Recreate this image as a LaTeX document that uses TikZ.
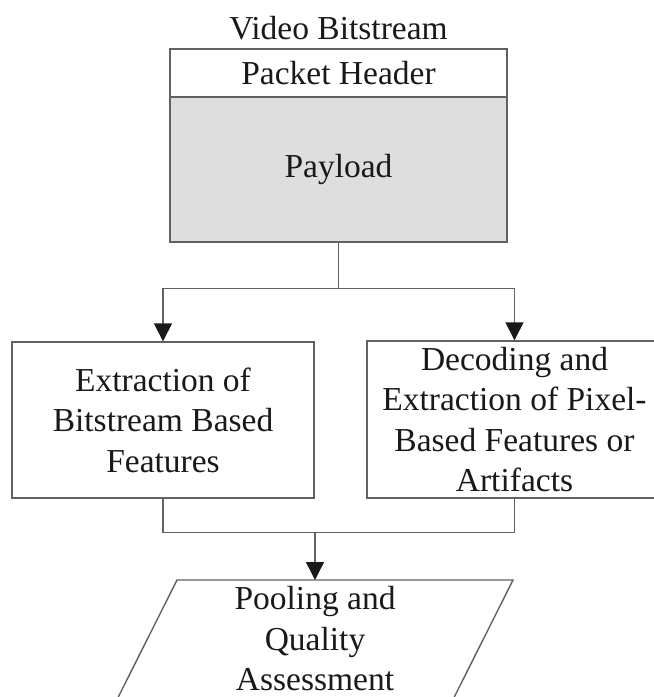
\documentclass[tikz,border=0pt]{standalone}
\usepackage{fontspec}
\setmainfont{Liberation Serif}
\usetikzlibrary{arrows.meta,calc}

\tikzset{
  txt/.style={font=\fontsize{33.5}{40.5}\selectfont, align=center, inner sep=0pt, text=black!90},
  block/.style={txt, draw=black!62, line width=1.4pt, rectangle},
  link/.style={draw=black!62, line width=1.4pt},
  flow/.style={link, -{Triangle[width=18pt,length=18pt]}, arrows={[fill=black!90,color=black!90]}},
}

\begin{document}
\begin{tikzpicture}[x=1pt,y=-1pt]
  \useasboundingbox (0,0) rectangle (654,697);
  \clip (0,0) rectangle (654,697);

  % packet: title, header and payload
  \node[txt, anchor=base] (title) at (338.5,39) {Video Bitstream};
  \node[block, minimum width=337pt, minimum height=48pt] (header) at (338.5,73) {Packet Header};
  \node[block, fill=black!13, minimum width=337pt, minimum height=145pt] (payload) at (338.5,169.5) {Payload};

  % feature extraction branches
  \node[block, minimum width=302pt, minimum height=156pt] (left) at (163,420)
    {Extraction of\\Bitstream Based\\Features};
  \node[block, minimum width=295pt, minimum height=157pt] (right) at (514.5,419.5)
    {Decoding and\\Extraction of Pixel-\\Based Features or\\Artifacts};

  % pooling stage (parallelogram)
  \coordinate (ptl) at (177,580);
  \coordinate (ptr) at (513,580);
  \coordinate (pbr) at (452.8,700);
  \coordinate (pbl) at (116.8,700);
  \draw[link] (pbl) -- (ptl) -- (ptr) -- (pbr) -- cycle;
  \node[txt] (pool) at (315,639) {Pooling and\\Quality\\Assessment};
  \coordinate (pooltop) at (315,580);

  % split from payload to both branches
  \draw[link] (payload.south) -- ++(0,46) coordinate (split);
  \draw[flow] (split) -| (left.north);
  \draw[flow] (split) -| (right.north);

  % merge of both branches into pooling
  \draw[link] (left.south) -- ++(0,34) coordinate (lj) -| (right.south);
  \coordinate (join) at (pooltop |- lj);
  \draw[flow] (join) -- (pooltop);
\end{tikzpicture}
\end{document}
